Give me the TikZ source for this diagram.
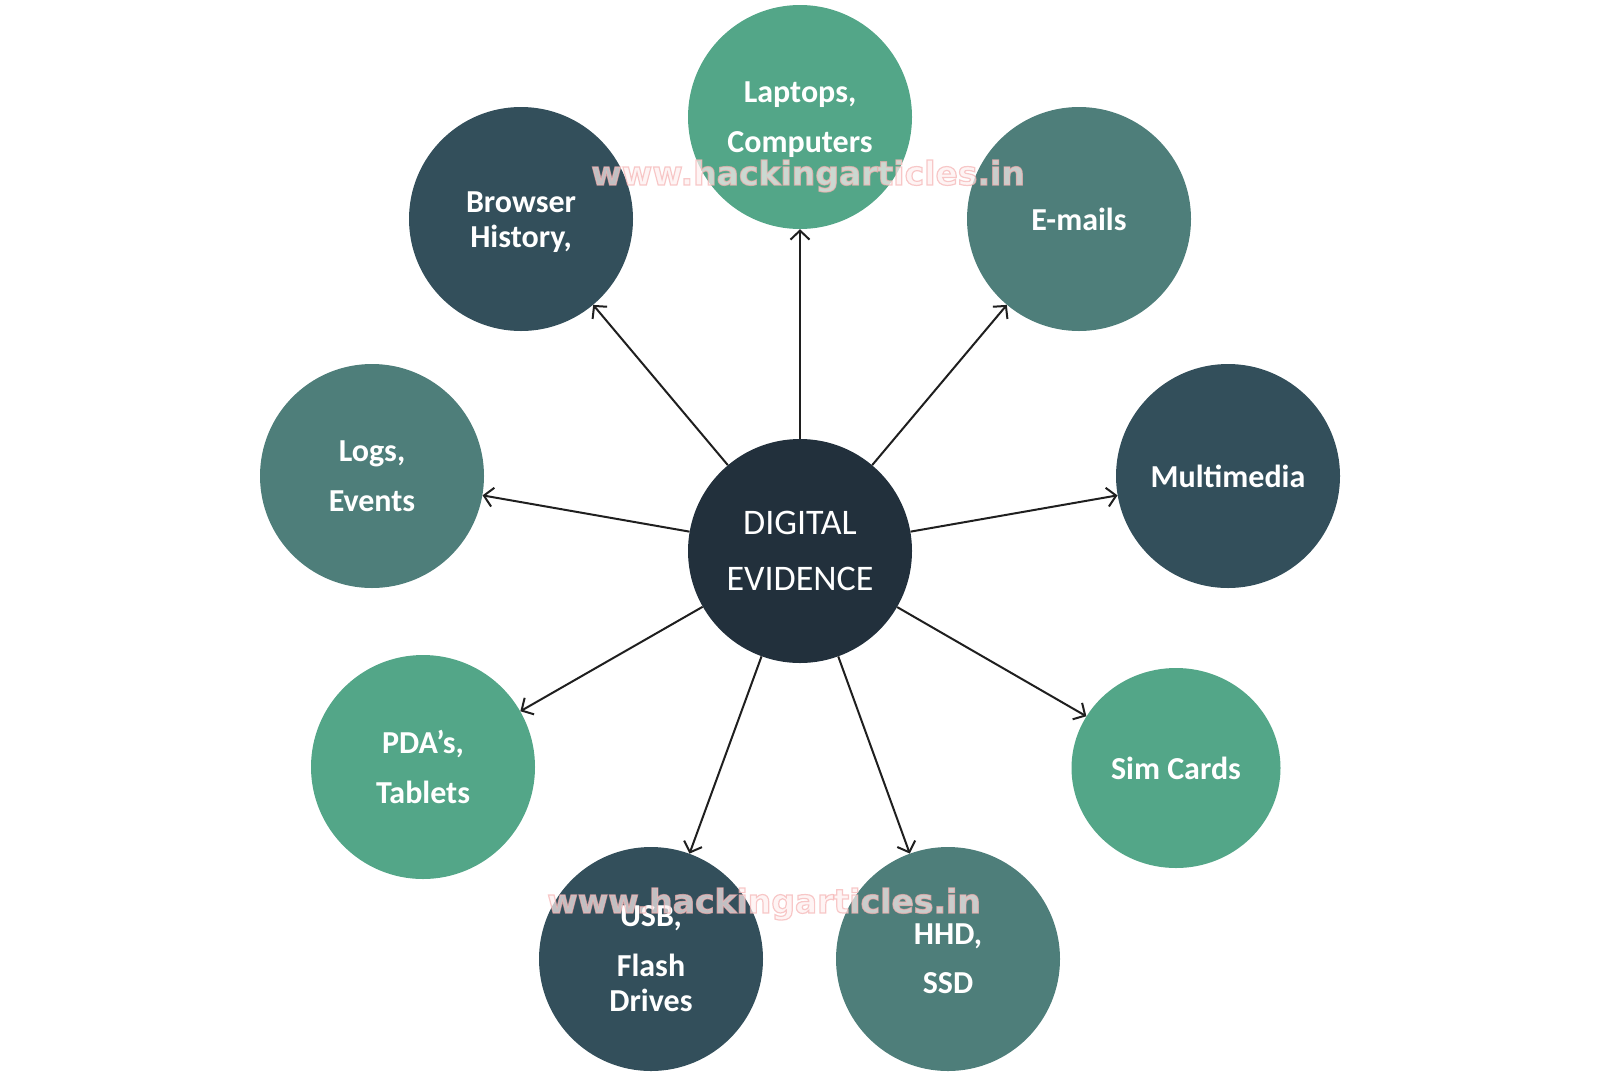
\documentclass[tikz,border=0pt]{standalone}
\usepackage{fontspec}
\setmainfont{Carlito}
\newfontfamily\wmfont{DejaVu Sans}
\usetikzlibrary{arrows.meta,shapes.geometric}
\definecolor{cCenter}{HTML}{22303C}
\definecolor{cDark}{HTML}{334F5B}
\definecolor{cMid}{HTML}{4E7E7A}
\definecolor{cGreen}{HTML}{53A688}
\definecolor{cWmFill}{HTML}{FDF0F0}
\tikzset{
  circ/.style={circle, minimum size=224pt, inner sep=0pt, text=white, align=center,
    font=\bfseries\fontsize{32}{35}\selectfont},
  cgreen/.style={circ, fill=cGreen},
  cdark/.style={circ, fill=cDark},
  cmid/.style={circ, fill=cMid},
  hub/.style={circle, minimum size=224pt, inner sep=0pt, text=white, align=center,
    fill=cCenter, font=\fontsize{36}{56}\selectfont},
  conn/.style={-{Straight Barb[length=9pt,width=19pt,line width=2pt]}, line width=2pt, draw=black!88},
  wm/.style={inner sep=0pt, text=cWmFill, text opacity=0.7,
    font=\wmfont\bfseries\fontsize{33}{36}\selectfont}
}
\begin{document}
\begin{tikzpicture}[x=1pt,y=-1pt]
\useasboundingbox (0,0) rectangle (1600,1077);
\node[hub] (hub) at (800,551) {DIGITAL\\EVIDENCE};
\node[cgreen, text depth=0pt] (laptops) at (800,117) {Laptops,\\[15pt]Computers};
\node[cdark] (browser) at (521,219) {\rule{0pt}{27pt}Browser\\History,};
\node[cmid] (emails) at (1079,219) {E-mails};
\node[cmid] (logs) at (372,476) {Logs,\\[15pt]Events};
\node[cdark] (multi) at (1228,476) {Multimedia};
\node[cgreen] (pda) at (423,767) {PDA’s,\\[15pt]Tablets};
\node[cgreen, ellipse, minimum width=209pt, minimum height=200pt] (sim) at (1176,768) {Sim Cards};
\node[cdark] (usb) at (651,959) {USB,\\[15pt]Flash\\Drives};
\node[cmid] (hhd) at (948,959) {HHD,\\[14pt]SSD};
\foreach \t in {laptops,browser,emails,logs,multi,pda,sim,usb,hhd}
  \draw[conn] (hub) -- (\t);
\node[wm, anchor=base] (wm1) at (808,185) {\special{pdf:literal direct 2 Tr 1.2 w 0.96 0.7 0.7 RG}www.hackingarticles.in\special{pdf:literal direct 0 Tr}};
\node[wm, anchor=base] (wm2) at (764,913) {\special{pdf:literal direct 2 Tr 1.2 w 0.96 0.7 0.7 RG}www.hackingarticles.in\special{pdf:literal direct 0 Tr}};
\end{tikzpicture}
\end{document}
